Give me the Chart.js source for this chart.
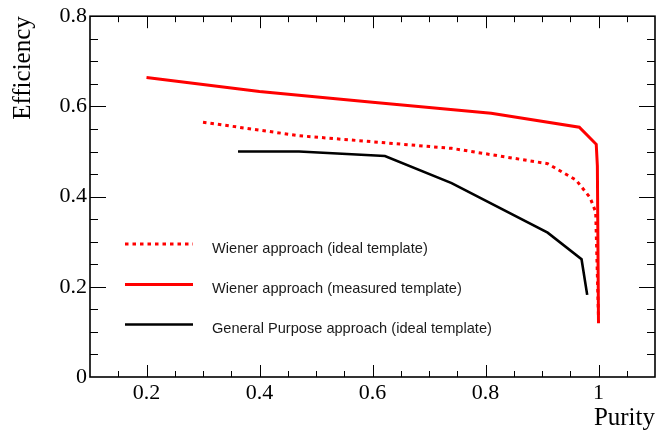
<!DOCTYPE html>
<html>
<head>
<meta charset="utf-8">
<script src="https://cdn.jsdelivr.net/npm/chart.js@4.4.0/dist/chart.umd.min.js"></script>
<style>
  html, body { margin: 0; padding: 0; background: #fff; }
  canvas { display: block; }
</style>
</head>
<body>
<canvas id="c" width="656" height="436"></canvas>
<script>
// ── Data ────────────────────────────────────────────────────────
const idealPurity = [0.30, 0.47, 0.74, 0.91, 0.96, 0.985, 0.995, 1.0];
const idealEff    = [0.565, 0.535, 0.507, 0.473, 0.437, 0.398, 0.366, 0.13];
const measPurity  = [0.20, 0.40, 0.60, 0.81, 0.966, 0.996, 0.998, 1.0];
const measEff     = [0.664, 0.633, 0.609, 0.585, 0.554, 0.516, 0.468, 0.119];
const gpPurity    = [0.362, 0.47, 0.622, 0.74, 0.91, 0.97, 0.98];
const gpEff       = [0.50, 0.50, 0.490, 0.430, 0.320, 0.261, 0.182];

const seriesLabels = [
    'Wiener approach (ideal template)',
    'Wiener approach (measured template)',
    'General Purpose approach (ideal template)'
];

const xTicks = [0.2, 0.4, 0.6, 0.8, 1];
const yTicks = [0, 0.2, 0.4, 0.6, 0.8];
const xMin = 0.1, xMax = 1.1, yMin = 0, yMax = 0.8;
const minorStep = 0.05;

const serif = "'Liberation Serif', 'Times New Roman', serif";
const sans  = "'Liberation Sans', Arial, sans-serif";

const pts = (xs, ys) => xs.map((v, i) => ({ x: v, y: ys[i] }));

// ── ROOT-style frame: box + inward ticks on all four sides ──────
const frameAxes = {
    id: 'frameAxes',
    afterDraw(chart) {
        const { ctx, chartArea: a, scales: { x, y } } = chart;
        ctx.save();
        ctx.strokeStyle = '#000';
        ctx.lineWidth = 1;
        const seg = (x1, y1, x2, y2) => {
            ctx.beginPath(); ctx.moveTo(x1, y1); ctx.lineTo(x2, y2); ctx.stroke();
        };
        const isMajor = (v, list) => list.some(t => Math.abs(t - v) < 1e-6);

        const nx = Math.round((xMax - xMin) / minorStep);
        for (let i = 1; i < nx; i++) {
            const v = xMin + i * minorStep;
            const px = Math.round(x.getPixelForValue(v)) + 0.5;
            const len = isMajor(v, xTicks) ? 12 : 6;
            seg(px, a.bottom, px, a.bottom - len);
            seg(px, a.top, px, a.top + len);
        }
        const ny = Math.round((yMax - yMin) / minorStep);
        for (let i = 1; i < ny; i++) {
            const v = yMin + i * minorStep;
            const py = Math.round(y.getPixelForValue(v)) + 0.5;
            const len = isMajor(v, yTicks) ? 16 : 8;
            seg(a.left, py, a.left + len, py);
            seg(a.right, py, a.right - len, py);
        }
        ctx.lineWidth = 1.6;
        ctx.strokeRect(a.left, a.top, a.right - a.left, a.bottom - a.top);

        // axis titles
        ctx.fillStyle = '#000';
        ctx.font = '25px ' + serif;
        ctx.textAlign = 'right';
        ctx.textBaseline = 'alphabetic';
        ctx.fillText('Purity', a.right, 425);
        ctx.save();
        ctx.translate(30, a.top);
        ctx.rotate(-Math.PI / 2);
        ctx.fillText('Efficiency', 0, 0);
        ctx.restore();

        // legend
        const rows = [244, 284.5, 324.5];
        const order = [0, 1, 2];
        ctx.font = '14.6px ' + sans;
        ctx.textAlign = 'left';
        order.forEach((di, r) => {
            const ds = chart.data.datasets[di];
            ctx.strokeStyle = ds.borderColor;
            ctx.lineWidth = ds.borderWidth;
            ctx.setLineDash(ds.borderDash || []);
            seg(125, rows[r], 193, rows[r]);
            ctx.setLineDash([]);
            ctx.fillStyle = '#1a1a1a';
            ctx.fillText(ds.label, 212, rows[r] + 8.5);
        });
        ctx.restore();
    }
};

new Chart(document.getElementById('c'), {
    type: 'line',
    data: {
        datasets: [
            {
                label: seriesLabels[0],
                data: pts(idealPurity, idealEff),
                borderColor: '#ff0000',
                borderWidth: 3,
                borderDash: [3.5, 4],
                order: 1
            },
            {
                label: seriesLabels[1],
                data: pts(measPurity, measEff),
                borderColor: '#ff0000',
                borderWidth: 3,
                order: 0
            },
            {
                label: seriesLabels[2],
                data: pts(gpPurity, gpEff),
                borderColor: '#000000',
                borderWidth: 2.6,
                order: 2
            }
        ]
    },
    options: {
        responsive: false,
        animation: false,
        devicePixelRatio: 1,
        parsing: false,
        elements: { point: { radius: 0 }, line: { tension: 0, fill: false } },
        layout: { padding: { top: 12, right: 1, left: 0, bottom: 0 } },
        plugins: { legend: { display: false }, tooltip: { enabled: false } },
        scales: {
            x: {
                type: 'linear',
                min: xMin, max: xMax,
                afterFit: s => { s.height = 59; },
                afterBuildTicks: s => { s.ticks = xTicks.map(v => ({ value: v })); },
                grid: { display: false, drawTicks: false },
                border: { display: false },
                ticks: {
                    padding: 3,
                    color: '#000',
                    font: { family: serif, size: 22 },
                    maxRotation: 0,
                    callback: v => String(+v.toFixed(2))
                }
            },
            y: {
                type: 'linear',
                min: yMin, max: yMax,
                afterFit: s => { s.width = 90; },
                afterBuildTicks: s => { s.ticks = yTicks.map(v => ({ value: v })); },
                grid: { display: false, drawTicks: false },
                border: { display: false },
                ticks: {
                    padding: 3,
                    color: '#000',
                    font: { family: serif, size: 22 },
                    callback: v => String(+v.toFixed(2))
                }
            }
        }
    },
    plugins: [frameAxes]
});
</script>
</body>
</html>
